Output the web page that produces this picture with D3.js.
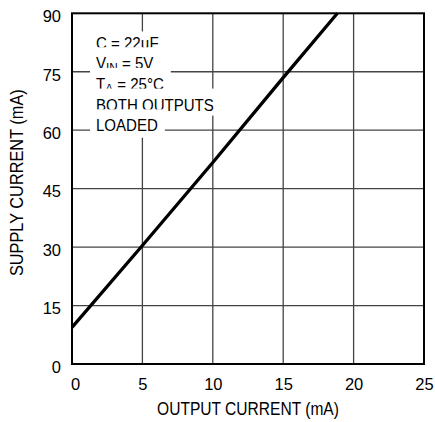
<!DOCTYPE html>
<html><head><meta charset="utf-8">
<script src="https://cdn.jsdelivr.net/npm/d3@7"></script>
<style>
html,body{margin:0;padding:0;background:#fff;}
svg{display:block;font-family:"Liberation Sans",Arial,sans-serif;}
</style></head>
<body>
<svg id="chart" width="435" height="422"></svg>
<script>
// Data
const outputCurrent = [0, 5, 10, 15, 18.85];
const supplyCurrent = [9.4, 30.4, 51.7, 73.5, 90];
const xTicks = [0, 5, 10, 15, 20, 25];
const yTicks = [0, 15, 30, 45, 60, 75, 90];
const xTitle = "OUTPUT CURRENT (mA)";
const yTitle = "SUPPLY CURRENT (mA)";
const legendLines = [
  [["C = 22µF", false]],
  [["V", false], ["IN", true], [" = 5V", false]],
  [["T", false], ["A", true], [" = 25°C", false]],
  [["BOTH OUTPUTS", false]],
  [["LOADED", false]]
];

const svg = d3.select("#chart");
const m = {left: 72, top: 13.3, right: 11, bottom: 58};
const W = 435 - m.left - m.right, H = 422 - m.top - m.bottom;
const x = d3.scaleLinear().domain([0, 25]).range([0, W]);
const y = d3.scaleLinear().domain([0, 90]).range([H, 0]);
const g = svg.append("g").attr("transform", `translate(${m.left},${m.top})`);

// gridlines
g.append("g").selectAll("line").data(xTicks.slice(1, -1)).join("line")
  .attr("x1", d => x(d)).attr("x2", d => x(d)).attr("y1", 0).attr("y2", H)
  .attr("stroke", "#444").attr("stroke-width", 1.3);
g.append("g").selectAll("line").data(yTicks.slice(1, -1)).join("line")
  .attr("y1", d => y(d)).attr("y2", d => y(d)).attr("x1", 0).attr("x2", W)
  .attr("stroke", "#444").attr("stroke-width", 1.3);

// fit a text horizontally to a target width (condensed look)
function fitWidth(textSel, target) {
  const len = textSel.node().getComputedTextLength();
  return target / len;
}

// legend with white masks
const lg = g.append("g");
const lx = 96 - m.left, lb0 = 48.5 - m.top, step = 20.7;
const texts = [];
legendLines.forEach((parts, i) => {
  const base = lb0 + i * step;
  const rect = lg.append("rect").attr("fill", "#fff");
  const t = lg.append("text").attr("font-size", 16).attr("fill", "#000");
  parts.forEach(([s, sub], j) => {
    const ts = t.append("tspan").text(s);
    if (sub) ts.attr("font-size", 12.5).attr("dy", 3);
    else if (j > 0) ts.attr("dy", -3);
  });
  texts.push({t, rect, base, i});
});
const k = fitWidth(texts[3].t, 118);
texts.forEach(({t, rect, base, i}) => {
  t.attr("transform", `translate(${lx},${base}) scale(${k},1)`);
  const w = t.node().getComputedTextLength() * k;
  const top = base - (i === 0 ? 17 : 22);
  const bot = i === legendLines.length - 1 ? base + 6.5 : base + 5;
  rect.attr("x", lx - 6).attr("y", top).attr("width", w + 13).attr("height", bot - top);
});

// data line
g.append("path").datum(outputCurrent.map((v, i) => [v, supplyCurrent[i]]))
  .attr("d", d3.line().x(d => x(d[0])).y(d => y(d[1])))
  .attr("fill", "none").attr("stroke", "#000").attr("stroke-width", 3.3);

// frame
g.append("rect").attr("x", 0).attr("y", 0).attr("width", W).attr("height", H)
  .attr("fill", "none").attr("stroke", "#000").attr("stroke-width", 2);

// axes
const xa = g.append("g").attr("transform", `translate(0,${H})`)
  .call(d3.axisBottom(x).tickValues(xTicks).tickSize(0).tickPadding(14.5).tickFormat(d3.format("d")));
const ya = g.append("g")
  .call(d3.axisLeft(y).tickValues(yTicks).tickSize(0).tickPadding(11).tickFormat(d3.format("d")));
[xa, ya].forEach(a => {
  a.select(".domain").remove();
  a.selectAll("text").attr("font-size", 16.5).attr("fill", "#000").attr("font-family", null);
});
ya.selectAll("text").attr("dy", "0.5em");
xa.selectAll("text").filter(d => d === 0).attr("dx", 3);

// titles
const xt = svg.append("text").attr("text-anchor", "middle").attr("font-size", 19).text(xTitle);
xt.attr("transform", `translate(${m.left + W / 2},415) scale(${fitWidth(xt, 182)},1)`);
const yt = svg.append("text").attr("text-anchor", "middle").attr("font-size", 19).text(yTitle);
yt.attr("transform", `translate(22.5,182.7) rotate(-90) scale(${fitWidth(yt, 187)},1)`);
</script>
</body></html>
